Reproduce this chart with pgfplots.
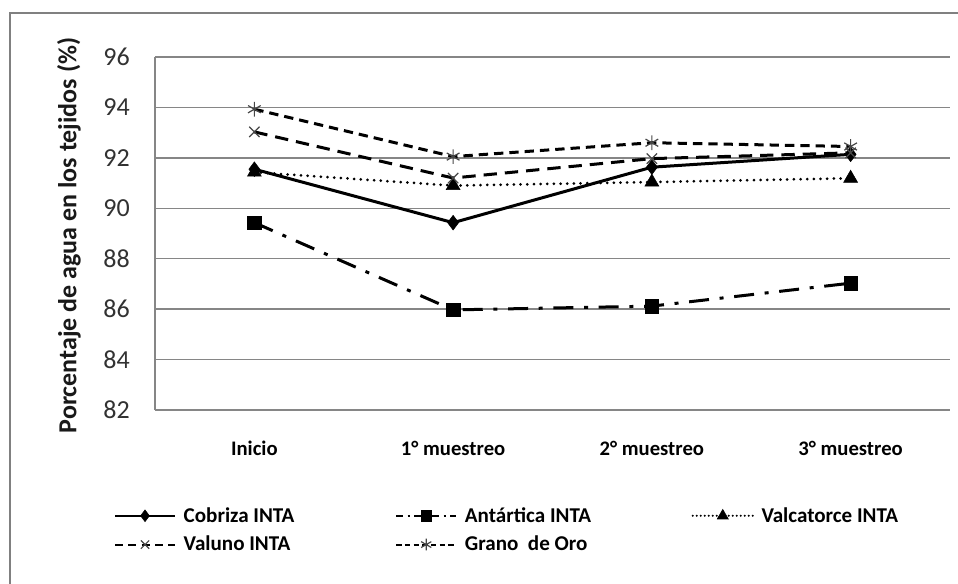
\documentclass[border=0pt]{standalone}
\usepackage{fontspec}
\setmainfont{Carlito}
\usepackage{pgfplots}
\pgfplotsset{compat=1.18}
\definecolor{gridgray}{RGB}{134,134,134}
\definecolor{framegray}{RGB}{128,128,128}
\definecolor{markgray}{RGB}{70,70,70}
\definecolor{ticktext}{RGB}{50,50,50}
\begin{document}
\begin{tikzpicture}
\useasboundingbox (0,0) rectangle (718.5pt,437.25pt);
\draw[framegray, line width=1.5pt] (7.5pt,-2pt) -- (7.5pt,427.5pt) -- (722pt,427.5pt);
\node[rotate=90, font=\fontsize{19.5}{23}\selectfont\bfseries, text=black!90] at (51.75pt,260.6pt) {Porcentaje de agua en los tejidos (\%)};
\begin{axis}[
  at={(116.25pt,129.75pt)}, anchor=south west,
  scale only axis, width=596.25pt, height=264.75pt,
  xmin=-0.5, xmax=3.5, ymin=82, ymax=96,
  xtick={0,1,2,3}, xticklabels={Inicio, 1° muestreo, 2° muestreo, 3° muestreo},
  ytick={82,84,...,96},
  ymajorgrids, grid style={gridgray, line width=1.1pt},
  axis x line*=bottom, axis y line*=left,
  axis line style={gridgray, line width=1.1pt, -},
  major tick length=0pt,
  /pgf/number format/assume math mode=true,
  yticklabel style={font=\fontsize{19.5}{23}\selectfont, text=ticktext, anchor=east, inner sep=0pt, xshift=-18.75pt},
  xticklabel style={font=\fontsize{15.5}{18}\selectfont\bfseries, anchor=base, inner sep=0pt, yshift=-33.75pt},
  clip=false,
  legend columns=3,
  legend cell align=left,
  legend style={draw=none, fill=none, at={(-0.057,-0.26)}, anchor=north west,
    font=\fontsize{15.8}{18}\selectfont\bfseries, row sep=5pt,
    /tikz/column 1/.style={column sep=3.75pt},
    /tikz/column 3/.style={column sep=3.75pt},
    /tikz/column 5/.style={column sep=3.75pt},
    /tikz/column 2/.style={column sep=73.5pt},
    /tikz/column 4/.style={column sep=73.5pt}},
  legend image code/.code={\draw[line width=1.6pt, every mark/.append style={scale=0.8}, mark repeat=2, mark phase=2] plot coordinates {(0pt,0pt) (22.5pt,0pt) (45pt,0pt)};},
]
\addplot[black, line width=2.25pt, mark=diamond*, mark size=5.5pt, mark options={solid, line width=0.4pt}]
  coordinates {(0,91.55) (1,89.43) (2,91.63) (3,92.14)};
\addlegendentry{Cobriza INTA}
\addplot[black, line width=2.25pt, dash pattern=on 15pt off 8pt on 3pt off 8pt, mark=square*, mark size=5pt, mark options={solid, line width=0.4pt},
  legend image post style={dash pattern=on 5pt off 3.5pt on 1.5pt off 3.5pt}]
  coordinates {(0,89.43) (1,85.97) (2,86.12) (3,87.03)};
\addlegendentry{Antártica INTA}
\addplot[black, line width=2.25pt, line cap=round, dash pattern=on 0pt off 5pt, mark=triangle*, mark size=6pt, mark options={solid, line width=0.4pt},
  legend image post style={dash pattern=on 0pt off 3pt}]
  coordinates {(0,91.43) (1,90.9) (2,91.04) (3,91.19)};
\addlegendentry{Valcatorce INTA}
\addplot[black, line width=2.25pt, dash pattern=on 10pt off 6pt, mark=x, mark size=5.5pt, mark options={solid, draw=markgray, line width=0.9pt},
  legend image post style={dash pattern=on 6pt off 4pt}]
  coordinates {(0,93.03) (1,91.2) (2,91.97) (3,92.2)};
\addlegendentry{Valuno INTA}
\addplot[black, line width=2.25pt, dash pattern=on 7pt off 4.5pt, mark=asterisk, mark size=5.5pt, mark options={solid, draw=markgray, line width=0.9pt},
  legend image post style={dash pattern=on 4pt off 2.5pt}]
  coordinates {(0,93.93) (1,92.05) (2,92.6) (3,92.45)};
\addlegendentry{Grano~~de Oro}
\end{axis}
\end{tikzpicture}
\end{document}
